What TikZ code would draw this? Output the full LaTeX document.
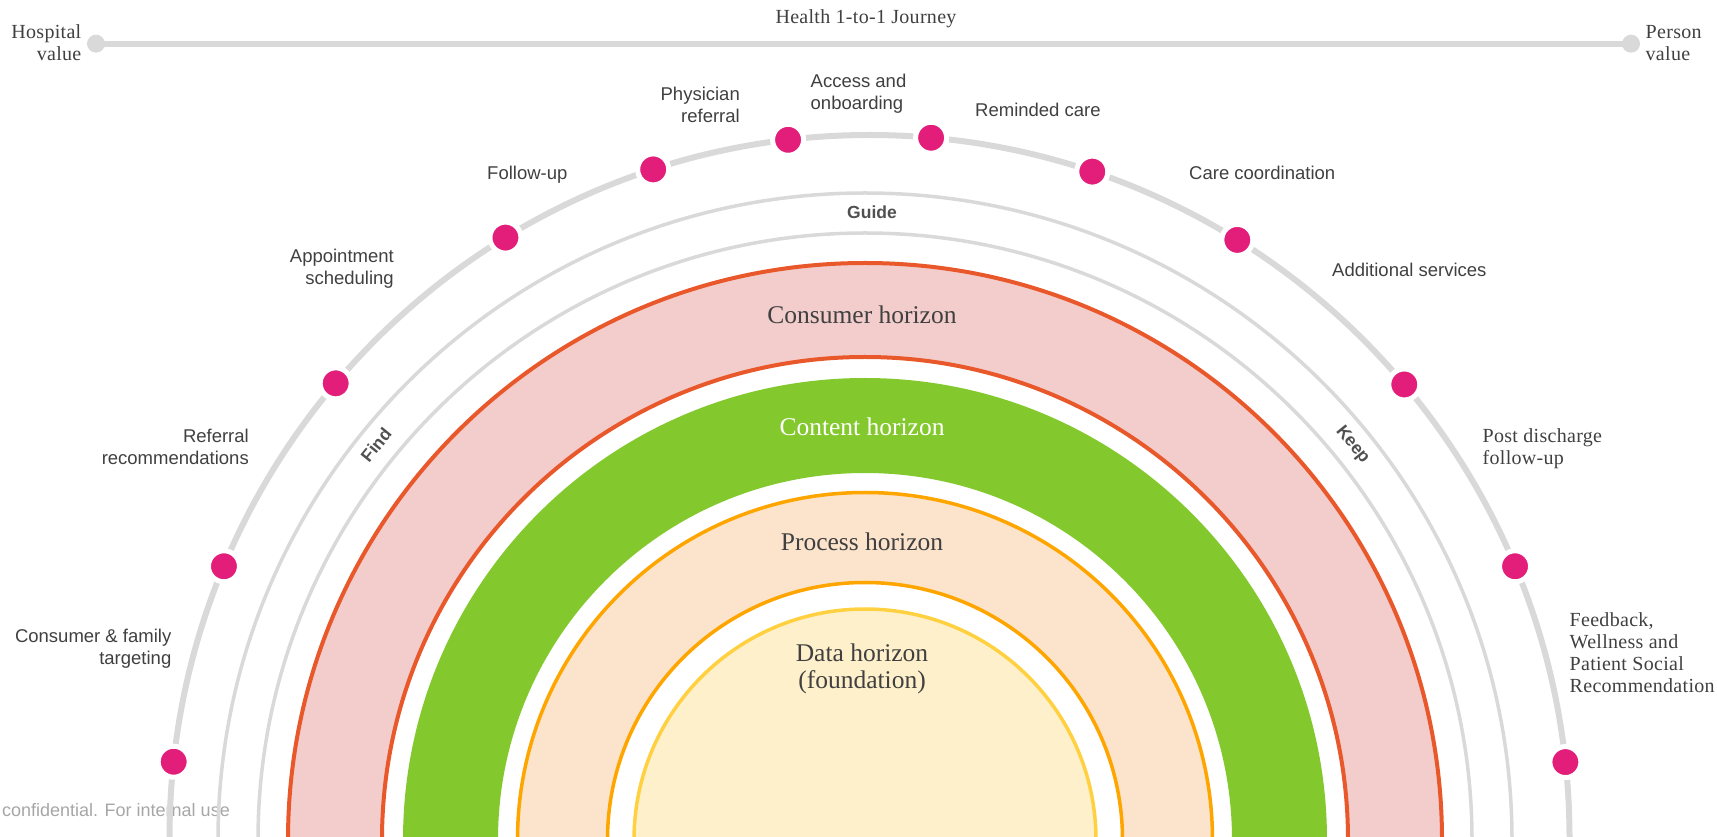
\documentclass[tikz,border=0pt]{standalone}
\usepackage{fontspec}
\setmainfont{Liberation Serif}
\newfontfamily\lsans{Liberation Sans}
\newfontfamily\lserif[LetterSpace=1.5]{Liberation Serif}
\newfontfamily\hserif{Liberation Serif}
\usetikzlibrary{calc}
\definecolor{txt}{HTML}{404040}
\definecolor{boldtxt}{HTML}{505050}
\definecolor{conftxt}{HTML}{A6A6A6}
\definecolor{lgray}{HTML}{D9D9D9}
\definecolor{dotpink}{HTML}{E31E7A}
\definecolor{consfill}{HTML}{F3CCCC}
\definecolor{consline}{HTML}{E9582A}
\definecolor{contfill}{HTML}{83C92E}
\definecolor{procfill}{HTML}{FCE4CC}
\definecolor{procline}{HTML}{FFA500}
\definecolor{datafill}{HTML}{FFF0CC}
\definecolor{dataline}{HTML}{FFD040}
\begin{document}
\begin{tikzpicture}[x=1pt,y=1pt,
  lbl/.style={font=\lsans\fontsize{18.5}{22}\selectfont, text=txt, inner sep=0pt},
  serlbl/.style={font=\lserif\fontsize{20}{22}\selectfont, text=txt, inner sep=0pt},
  hz/.style={font=\hserif\fontsize{25.5}{27}\selectfont, text=txt, inner sep=0pt},
  phase/.style={font=\lsans\bfseries\fontsize{17.5}{20}\selectfont, text=boldtxt, inner sep=0pt},
  jdot/.style={circle, fill=dotpink, draw=white, line width=5pt, minimum size=31pt, inner sep=0pt},
  topdot/.style={circle, fill=lgray, minimum size=18pt, inner sep=0pt},
  grayring/.style={draw=lgray, line width=3.5pt},
  jline/.style={draw=lgray, line width=6pt},
  consstroke/.style={draw=consline, line width=4pt},
  procstroke/.style={draw=procline, line width=3.5pt}
]
\useasboundingbox (0,0) rectangle (1717,836);
\clip (0,0) rectangle (1717,836);
\coordinate (C) at (865,-4);
\coordinate (J) at (869.5,-2);

% footer text (under the arcs)
\node[lbl, font=\lsans\fontsize{18}{20}\selectfont, text=conftxt, anchor=base east] (conf) at (230,19.3) {confidential. For internal use};

% horizons
\fill[consfill, even odd rule] (C) circle[radius=577] (C) circle[radius=483];
\draw[consstroke] (C) circle[radius=577];
\draw[consstroke] (C) circle[radius=483];
\fill[contfill, even odd rule] (C) circle[radius=462] (C) circle[radius=367];
\fill[procfill, even odd rule] (C) circle[radius=347.5] (C) circle[radius=257.5];
\draw[procstroke] (C) circle[radius=347.5];
\draw[procstroke] (C) circle[radius=257.5];
\fill[datafill] (C) circle[radius=231];
\draw[draw=dataline, line width=3.5pt] (C) circle[radius=231];

% guide rings
\draw[grayring] (C) circle[radius=647];
\draw[grayring] (C) circle[radius=607];

% journey arc
\draw[jline] (J) ellipse[x radius=700, y radius=703];

% top line
\node[topdot] (hv) at (96,792.3) {};
\node[topdot] (pv) at (1631,792.3) {};
\draw[jline] (hv.center) -- (pv.center);
\node[serlbl, anchor=base] (title) at (866,812) {Health 1-to-1 Journey};
\node[serlbl, align=right, anchor=base east] (hosp) at (81.5,775.3) {Hospital\\value};
\node[serlbl, align=left, anchor=base west] (pers) at (1645.5,775.3) {Person\\value};

% dots
\node[jdot] (d1) at ($(J)+(173.77:700 and 703)$) {};
\node[jdot] (d2) at ($(J)+(157.26:700 and 703)$) {};
\node[jdot] (d3) at ($(J)+(139.7:700 and 703)$) {};
\node[jdot] (d4) at ($(J)+(121.34:700 and 703)$) {};
\node[jdot] (d5) at ($(J)+(108.0:700 and 703)$) {};
\node[jdot] (d6) at ($(J)+(96.68:700 and 703)$) {};
\node[jdot] (d7) at ($(J)+(84.95:700 and 703)$) {};
\node[jdot] (d8) at ($(J)+(71.44:700 and 703)$) {};
\node[jdot] (d9) at ($(J)+(58.3:700 and 703)$) {};
\node[jdot] (d10) at ($(J)+(40.18:700 and 703)$) {};
\node[jdot] (d11) at ($(J)+(22.74:700 and 703)$) {};
\node[jdot] (d12) at ($(J)+(6.2:700 and 703)$) {};

% journey labels (base = baseline of the last line)
\node[lbl, align=right, anchor=base east] (l1) at (171.5,171) {Consumer \& family\\targeting};
\node[lbl, align=right, anchor=base east] (l2) at (249,371) {Referral\\recommendations};
\node[lbl, align=right, anchor=base east] (l3) at (394,551) {Appointment\\scheduling};
\node[lbl, anchor=base east] (l4) at (567.6,656.7) {Follow-up};
\node[lbl, align=right, anchor=base east] (l5) at (740,713.3) {Physician\\referral};
\node[lbl, align=left, anchor=base west] (l6) at (810.5,726.7) {Access and\\onboarding};
\node[lbl, anchor=base west] (l7) at (975,719.3) {Reminded care};
\node[lbl, anchor=base west] (l8) at (1189,656.7) {Care coordination};
\node[lbl, anchor=base west] (l9) at (1332,559.3) {Additional services};
\node[serlbl, align=left, anchor=base west] (l10) at (1482.5,371) {Post discharge\\follow-up};
\node[serlbl, align=left, anchor=base west] (l11) at (1569.5,143.5) {Feedback,\\Wellness and\\Patient Social\\Recommendation};

% phase labels
\node[phase, anchor=base] (guide) at (872,617) {Guide};
\node[phase, rotate=51] (find) at (376,391) {Find};
\node[phase, rotate=-51] (keep) at (1352.4,391) {Keep};

% horizon labels
\node[hz, anchor=base] (hcons) at (862,512.7) {Consumer horizon};
\node[hz, anchor=base, text=white] (hcont) at (862,400.7) {Content horizon};
\node[hz, anchor=base] (hproc) at (862,285) {Process horizon};
\node[hz, align=center, anchor=base] (hdata) at (862,147.7) {Data horizon\\(foundation)};
\end{tikzpicture}
\end{document}
